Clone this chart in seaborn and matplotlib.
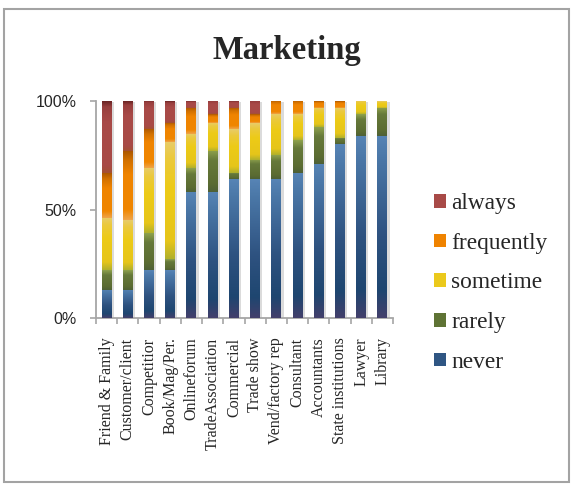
import numpy as np
import pandas as pd
import matplotlib
matplotlib.use("Agg")
import matplotlib.pyplot as plt
import matplotlib.patheffects as pe
from matplotlib.colors import LinearSegmentedColormap
from matplotlib.patches import Rectangle, Patch
from matplotlib.ticker import FuncFormatter, FixedLocator
import seaborn as sns

categories = ["Friend & Family", "Customer/client", "Competitior", "Book/Mag/Per.",
              "Onlineforum", "TradeAssociation", "Commercial", "Trade show",
              "Vend/factory rep", "Consultant", "Accountants", "State institutions",
              "Lawyer", "Library"]

never      = [13, 13, 22, 22, 58, 58, 64, 64, 64, 67, 71, 80, 84, 84]
rarely     = [9, 9, 17, 5, 11, 19, 3, 9, 11, 15, 17, 3, 10, 13]
sometime   = [24, 23, 30, 54, 16, 13, 20, 17, 19, 12, 9, 14, 6, 3]
frequently = [21, 32, 18, 9, 12, 4, 10, 4, 6, 6, 3, 3, 0, 0]
always     = [33, 23, 13, 10, 3, 6, 3, 6, 0, 0, 0, 0, 0, 0]

series_names = ["never", "rarely", "sometime", "frequently", "always"]
series_values = [never, rarely, sometime, frequently, always]

base_colors = {
    "never": "#2f5683",
    "rarely": "#5f7334",
    "sometime": "#ebc91c",
    "frequently": "#ef8300",
    "always": "#a84a47",
}
# vertical shading of each segment, listed from its top edge to its bottom edge
shading = {
    "never": [(0.0, "#5784b5"), (0.12, "#4b78a8"), (0.55, "#2e5280"),
              (0.85, "#1e4670"), (1.0, "#433f6b")],
    "rarely": [(0.0, "#8fa24c"), (0.25, "#66793a"), (0.8, "#5b6c32"), (1.0, "#4e6036")],
    "sometime": [(0.0, "#e8cc6a"), (0.15, "#ebc93c"), (0.4, "#edcb17"),
                 (0.85, "#e6c51a"), (1.0, "#b0b02c")],
    "frequently": [(0.0, "#a85500"), (0.15, "#d27100"), (0.35, "#f08400"),
                   (0.85, "#ef8600"), (1.0, "#efa54a")],
    "always": [(0.0, "#6a2424"), (0.08, "#983f3e"), (0.3, "#a94a48"),
               (0.9, "#a84a46"), (1.0, "#a45132")],
}

df = pd.DataFrame(dict(zip(series_names, series_values)), index=categories)
cum = df.cumsum(axis=1)

sns.set_theme(style="white")
plt.rcParams["font.family"] = ["Liberation Serif", "DejaVu Serif"]

W, H = 573, 487
fig = plt.figure(figsize=(W / 100, H / 100), dpi=100)
ax = fig.add_axes([96 / W, 1 - 318 / H, 297 / W, 217 / H])

bar_w = 0.47
containers = {}
# draw cumulative totals from the top series down so each layer shows its own segment
for name in reversed(series_names):
    sns.barplot(x=categories, y=cum[name].values, color=base_colors[name],
                saturation=1, width=bar_w, ax=ax, linewidth=0)
    containers[name] = ax.containers[-1]

# soft shadow behind full bars
for p in containers["always"].patches:
    p.set_path_effects([pe.SimplePatchShadow(offset=(1.6, -1.0), shadow_rgbFace="#999999",
                                             alpha=0.35), pe.Normal()])

# gradient fill per segment
for i, name in enumerate(series_names):
    cmap = LinearSegmentedColormap.from_list(name, shading[name])
    grad = np.linspace(0, 1, 256).reshape(-1, 1)
    for j, p in enumerate(containers[name].patches):
        top = cum[name].iloc[j]
        bottom = 0 if i == 0 else cum[series_names[i - 1]].iloc[j]
        if top - bottom <= 0:
            continue
        x0 = p.get_x()
        ax.imshow(grad, cmap=cmap, aspect="auto", origin="upper",
                  extent=[x0, x0 + p.get_width(), bottom, top],
                  interpolation="bilinear", zorder=3)

ax.set_xlim(-0.5, len(categories) - 0.5)
ax.set_ylim(0, 100)
ax.set_xlabel("")
ax.set_ylabel("")

axis_gray = "#a6a6a6"
for side in ["top", "right"]:
    ax.spines[side].set_visible(False)
for side in ["left", "bottom"]:
    ax.spines[side].set_color(axis_gray)
    ax.spines[side].set_linewidth(1.3)

ax.set_yticks([0, 50, 100])
ax.yaxis.set_major_formatter(FuncFormatter(lambda v, _: f"{int(v)}%"))
ax.tick_params(axis="y", which="major", direction="out", length=4, width=1.2,
               color=axis_gray, pad=10, left=True, labelsize=11.5)
for t in ax.get_yticklabels():
    t.set_fontfamily(["Liberation Sans", "DejaVu Sans"])

ax.set_xticks(range(len(categories)))
ax.set_xticklabels(categories, rotation=90, fontsize=11.5, va="top", ha="center")
ax.xaxis.set_minor_locator(FixedLocator(np.arange(-0.5, len(categories), 1.0)))
ax.tick_params(axis="x", which="major", length=0, pad=14)
ax.tick_params(axis="x", which="minor", direction="out", length=4, width=1.2,
               color=axis_gray, bottom=True)

fig.text(287 / W, 1 - 50 / H, "Marketing", fontsize=23.5, fontweight="bold",
         ha="center", va="center")

handles = [Patch(facecolor=base_colors[n], edgecolor="none", label=n)
           for n in reversed(series_names)]
fig.legend(handles=handles, loc="center left", bbox_to_anchor=(434 / W, 1 - 283 / H),
           frameon=False, fontsize=16.8, handlelength=0.52, handleheight=0.52,
           handletextpad=0.22, labelspacing=0.8, borderpad=0, borderaxespad=0)

fig.patches.append(Rectangle((4 / W, 1 - 482 / H), 565 / W, 473 / H,
                             transform=fig.transFigure, fill=False,
                             edgecolor="#a3a3a3", linewidth=1.5))

fig.savefig("out.png", dpi=100)
